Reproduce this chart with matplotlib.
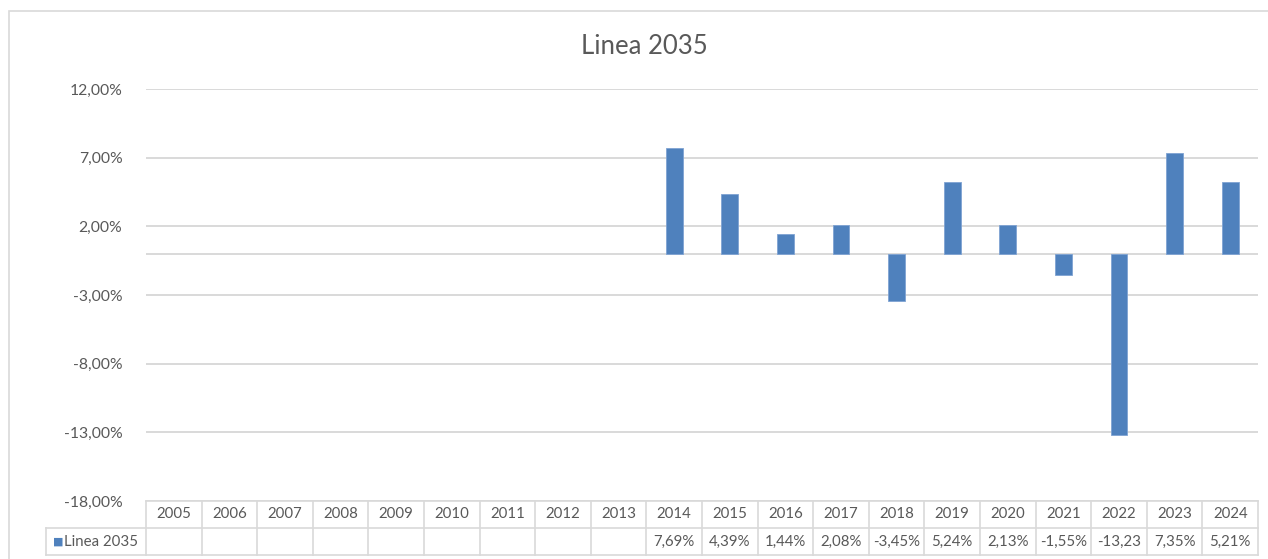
import matplotlib
matplotlib.use("Agg")
import matplotlib.pyplot as plt
import numpy as np
from matplotlib.patches import Rectangle
from matplotlib.lines import Line2D

plt.rcParams['font.family'] = ['Lato', 'DejaVu Sans']

title = "Linea 2035"
series_name = "Linea 2035"
years = ["2005", "2006", "2007", "2008", "2009", "2010", "2011", "2012", "2013",
         "2014", "2015", "2016", "2017", "2018", "2019", "2020", "2021", "2022",
         "2023", "2024"]
values = [np.nan] * 9 + [7.69, 4.39, 1.44, 2.08, -3.45, 5.24, 2.13, -1.55, -13.23, 7.35, 5.21]
table_labels = [""] * 9 + ["7,69%", "4,39%", "1,44%", "2,08%", "-3,45%", "5,24%",
                           "2,13%", "-1,55%", "-13,23", "7,35%", "5,21%"]
yticks = [-18, -13, -8, -3, 2, 7, 12]

W, H = 1268, 559
fig = plt.figure(figsize=(W / 100, H / 100), dpi=100)
fig.patch.set_facecolor("white")

# outer chart border
fig.add_artist(Rectangle((8.5 / W, -0.1), 1.2, (H - 10.5) / H + 0.1, transform=fig.transFigure,
                         fill=False, edgecolor="#D9D9D9", linewidth=1.2))

ax_l, ax_r, ax_t, ax_b = 146, 1258, 89, 501
ax = fig.add_axes([ax_l / W, 1 - ax_b / H, (ax_r - ax_l) / W, (ax_b - ax_t) / H])

grid_c = "#D9D9D9"
text_c = "#595959"
bar_c = "#4F81BD"

x = np.arange(len(years))
ax.set_xlim(-0.5, len(years) - 0.5)
ax.set_ylim(-18, 12)
for yv in yticks:
    ax.axhline(yv, color=grid_c, linewidth=1.4, zorder=0)
ax.axhline(0, color=grid_c, linewidth=1.4, zorder=0)

ax.bar(x, values, width=0.3, color=bar_c, edgecolor="#7FA3D3", linewidth=0.6, zorder=2)

ax.set_yticks(yticks)
ax.set_yticklabels([f"{v:.2f}%".replace(".", ",") for v in yticks], color=text_c, fontsize=11.3)
ax.tick_params(axis='y', length=0, pad=17)
ax.set_xticks([])
for s in ax.spines.values():
    s.set_visible(False)

fig.text(644 / W, 1 - 46 / H, title, fontsize=18.5, color=text_c, ha="center", va="center")

# data table
ah = ax_b - ax_t
rh = 27 / ah
trans = ax.get_xaxis_transform()
tbl_kw = dict(color=grid_c, linewidth=1.2, transform=trans, clip_on=False)
left_x = -0.5 - (ax_l - 46) / ((ax_r - ax_l) / len(years))
ax.add_line(Line2D([-0.5, len(years) - 0.5], [0, 0], **tbl_kw))
ax.add_line(Line2D([left_x, len(years) - 0.5], [-rh, -rh], **tbl_kw))
ax.add_line(Line2D([left_x, len(years) - 0.5], [-2 * rh, -2 * rh], **tbl_kw))
ax.add_line(Line2D([left_x, left_x], [-rh, -2 * rh], **tbl_kw))
for k in range(len(years) + 1):
    ax.add_line(Line2D([k - 0.5, k - 0.5], [0, -2 * rh], **tbl_kw))
for i, (yr, lab) in enumerate(zip(years, table_labels)):
    ax.text(i, -0.5 * rh, yr, transform=trans, ha="center", va="center",
            fontsize=10.8, color=text_c, clip_on=False)
    if lab:
        ax.text(i, -1.5 * rh, lab, transform=trans, ha="center", va="center",
                fontsize=10.8, color=text_c, clip_on=False)
ax.text(left_x + 0.12, -1.5 * rh, "\u25A0", transform=trans, ha="left", va="center",
        fontsize=8, color=bar_c, clip_on=False, family="DejaVu Sans")
ax.text(left_x + 0.33, -1.5 * rh, series_name, transform=trans, ha="left", va="center",
        fontsize=10.8, color=text_c, clip_on=False)

fig.savefig("out.png", dpi=100)
